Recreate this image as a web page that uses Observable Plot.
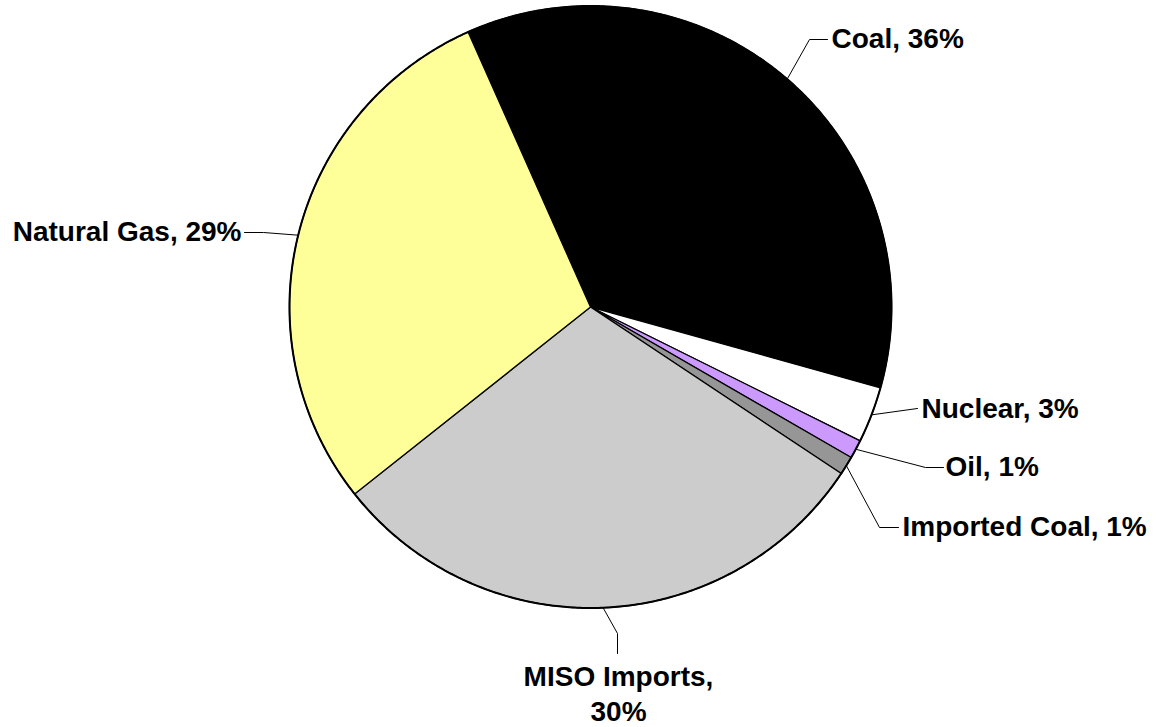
<!DOCTYPE html>
<html>
<head>
<meta charset="utf-8">
<script src="https://cdn.jsdelivr.net/npm/d3@7"></script>
<script src="https://cdn.jsdelivr.net/npm/@observablehq/plot@0.6"></script>
<style>
  html, body { margin: 0; padding: 0; background: #ffffff; }
  #chart svg { display: block; }
</style>
</head>
<body>
<div id="chart"></div>
<script>
// Generation mix by fuel source (share of total, %)
const sources = ["Coal", "Nuclear", "Oil", "Imported Coal", "MISO Imports", "Natural Gas"];
const shares = [36, 3, 1, 1, 30, 29];
const labels = ["Coal, 36%", "Nuclear, 3%", "Oil, 1%", "Imported Coal, 1%", "MISO Imports,\n30%", "Natural Gas, 29%"];
const colors = ["#000000", "#ffffff", "#cc99ff", "#969696", "#cccccc", "#ffff99"];

// Layout
const W = 1156, H = 727;
const cx = 590, cy = 306.5, R = 301;
const startDeg = -24;
const font = "Liberation Sans, Arial, Helvetica, sans-serif";

// Leader elbows and label anchors, in pixels
const labelLayout = [
  {bends: [[809, 39], [827, 39]], at: [831, 39], anchor: "start"},
  {bends: [[917, 408]], at: [921, 409], anchor: "start"},
  {bends: [[925, 467], [943, 467]], at: [945, 467], anchor: "start"},
  {bends: [[879, 527], [898, 527]], at: [902, 527], anchor: "start"},
  {bends: [[617, 633], [617, 653]], at: [618, 661], anchor: "middle"},
  {bends: [[263, 232], [244, 232]], at: [241, 232], anchor: "end"}
];

const toUnit = ([px, py]) => ({x: (px - cx) / R, y: (cy - py) / R});

const a0 = startDeg * Math.PI / 180;
const arcs = d3.pie().sort(null).startAngle(a0).endAngle(a0 + 2 * Math.PI)(shares);

// Slice outlines as closed polygons on the unit circle
const slicePts = [];
arcs.forEach((p, i) => {
  const src = sources[i];
  slicePts.push({source: src, x: 0, y: 0});
  const n = Math.max(4, Math.ceil((p.endAngle - p.startAngle) / (Math.PI / 360)));
  for (let k = 0; k <= n; k++) {
    const a = p.startAngle + (p.endAngle - p.startAngle) * k / n;
    slicePts.push({source: src, x: Math.sin(a), y: Math.cos(a)});
  }
  slicePts.push({source: src, x: 0, y: 0});
});

// Outer rim of the pie
const rimPts = d3.range(0, 721).map(k => {
  const a = k * Math.PI / 360;
  return {x: Math.sin(a), y: Math.cos(a)};
});

// Leader lines: from slice mid-angle on the rim through the elbows
const leaderPts = [];
const textRows = [];
arcs.forEach((p, i) => {
  const mid = (p.startAngle + p.endAngle) / 2;
  const lay = labelLayout[i];
  leaderPts.push({source: sources[i], x: Math.sin(mid), y: Math.cos(mid)});
  lay.bends.forEach(b => leaderPts.push({source: sources[i], ...toUnit(b)}));
  textRows.push({source: sources[i], label: labels[i], anchor: lay.anchor, ...toUnit(lay.at)});
});

const textMark = (anchor, extra = {}) => Plot.text(textRows.filter(d => d.anchor === anchor), {
  x: "x", y: "y", text: "label",
  textAnchor: anchor,
  fontFamily: font, fontWeight: "bold", fontSize: 28,
  fill: "#000",
  ...extra
});

const chart = Plot.plot({
  width: W,
  height: H,
  margin: 0,
  style: {background: "#ffffff", fontFamily: font},
  x: {domain: [-1, 1], range: [cx - R, cx + R], axis: null},
  y: {domain: [-1, 1], range: [cy + R, cy - R], axis: null},
  color: {domain: sources, range: colors},
  marks: [
    Plot.line(slicePts, {
      x: "x", y: "y", z: "source", fill: "source",
      stroke: "#000", strokeWidth: 1.3, strokeLinejoin: "round", curve: "linear"
    }),
    Plot.line(rimPts, {x: "x", y: "y", stroke: "#000", strokeWidth: 2, curve: "linear"}),
    Plot.line(leaderPts, {x: "x", y: "y", z: "source", stroke: "#000", strokeWidth: 1, curve: "linear"}),
    textMark("start", {lineAnchor: "middle"}),
    textMark("end", {lineAnchor: "middle"}),
    textMark("middle", {lineAnchor: "top", lineHeight: 1.25})
  ]
});

document.getElementById("chart").appendChild(chart);
</script>
</body>
</html>
